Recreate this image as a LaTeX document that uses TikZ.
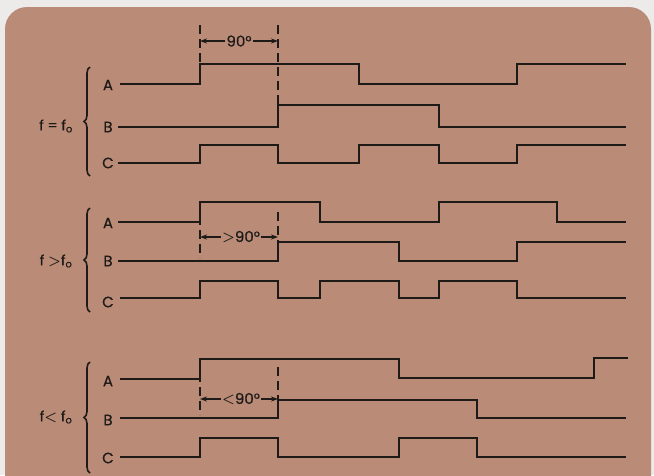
\documentclass[tikz,border=0pt]{standalone}
\usepackage{fontspec}
\usepackage{bm}
\setmainfont{Poppins}[FakeBold=0.6]
\usetikzlibrary{decorations.pathreplacing,arrows.meta}
\definecolor{outerbg}{HTML}{EDEBEA}
\definecolor{card}{HTML}{BA8C77}
\definecolor{ink}{HTML}{1E1A18}
\newcommand{\gtsym}{\raisebox{0.2pt}{$\bm{>}$}}
\newcommand{\ltsym}{\raisebox{0.2pt}{$\bm{<}$}}
\tikzset{
  wave/.style={draw=ink, line width=2.9pt, line join=miter, line cap=butt},
  guide/.style={draw=ink, line width=1.2pt, dash pattern=on 9pt off 5pt},
  dim/.style={draw=ink, line width=1.2pt, -{Stealth[length=7pt,width=5pt]}, shorten <=0.5pt},
  sig/.style={text=ink, font=\fontsize{15}{17}\selectfont, inner sep=1pt},
  dimlab/.style={text=ink, font=\fontsize{15}{17}\selectfont, inner sep=0.5pt, fill=card},
  freq/.style={text=ink, font=\fontsize{14}{16}\selectfont, inner sep=1pt},
  grp/.style={draw=ink, line width=1.6pt, decorate, decoration={brace, amplitude=6pt}}
}
\begin{document}
\begin{tikzpicture}[x=1pt,y=-1pt]
\useasboundingbox (0,0) rectangle (654,475);
\clip (0,0) rectangle (654,475);
\fill[outerbg] (0,0) rectangle (654,475);
\fill[card, rounded corners=22pt] (5,7) rectangle (651,500);

% ---------- group 1: f = fo ----------
\draw[grp] (90,176) -- (90,67);
\node[freq] (f1) at (56,126) {f = f$_{\mathrm{o}}$};
\node[sig] (a1) at (108,85) {A};
\node[sig] (b1) at (108,127) {B};
\node[sig] (c1) at (108,163) {C};
\draw[wave] (120,84) -- (200,84) -- (200,64) -- (359,64) -- (359,84) -- (517,84) -- (517,64) -- (626,64);
\draw[wave] (118,127) -- (278,127) -- (278,105) -- (439,105) -- (439,127) -- (626,127);
\draw[wave] (118,163) -- (200,163) -- (200,145) -- (278,145) -- (278,163) -- (359,163) -- (359,145) -- (439,145) -- (439,163) -- (517,163) -- (517,145) -- (626,145);
\draw[guide] (200,25) -- (200,64);
\draw[guide] (278,25) -- (278,105);
\coordinate (g1l) at (200,41);
\coordinate (g1r) at (278,41);
\node[dimlab] (d1) at (239,41) {90°};
\draw[dim] (d1.west) -- (g1l);
\draw[dim] (d1.east) -- (g1r);

% ---------- group 2: f > fo ----------
\draw[grp] (90,312) -- (90,208);
\node[freq] (f2) at (56,261) {f \gtsym f$_{\mathrm{o}}$};
\node[sig] (a2) at (108,223) {A};
\node[sig] (b2) at (108,261) {B};
\node[sig] (c2) at (108,302) {C};
\draw[wave] (118,222) -- (200,222) -- (200,202) -- (320,202) -- (320,222) -- (439,222) -- (439,202) -- (557,202) -- (557,222) -- (626,222);
\draw[wave] (118,261) -- (278,261) -- (278,242) -- (399,242) -- (399,261) -- (517,261) -- (517,242) -- (626,242);
\draw[wave] (120,298) -- (200,298) -- (200,281) -- (278,281) -- (278,298) -- (320,298) -- (320,281) -- (399,281) -- (399,298) -- (439,298) -- (439,281) -- (517,281) -- (517,298) -- (626,298);
\draw[guide] (200,202) -- (200,258);
\draw[guide] (278,212) -- (278,242);
\coordinate (g2l) at (200,237);
\coordinate (g2r) at (278,237);
\node[dimlab] (d2) at (241,237) {\gtsym 90°};
\draw[dim] (d2.west) -- (g2l);
\draw[dim] (d2.east) -- (g2r);

% ---------- group 3: f < fo ----------
\draw[grp] (90,473) -- (90,362);
\node[freq] (f3) at (56,417) {f\ltsym\ f$_{\mathrm{o}}$};
\node[sig] (a3) at (108,381) {A};
\node[sig] (b3) at (108,420) {B};
\node[sig] (c3) at (108,458) {C};
\draw[wave] (120,379) -- (200,379) -- (200,359) -- (399,359) -- (399,378) -- (594,378) -- (594,358) -- (628,358);
\draw[wave] (120,418) -- (278,418) -- (278,400) -- (477,400) -- (477,418) -- (626,418);
\draw[wave] (120,457) -- (200,457) -- (200,438) -- (278,438) -- (278,457) -- (399,457) -- (399,438) -- (477,438) -- (477,457) -- (626,457);
\draw[guide] (200,359) -- (200,415);
\draw[guide] (278,367) -- (278,400);
\coordinate (g3l) at (200,399);
\coordinate (g3r) at (278,399);
\node[dimlab] (d3) at (241,399) {\ltsym 90°};
\draw[dim] (d3.west) -- (g3l);
\draw[dim] (d3.east) -- (g3r);
\end{tikzpicture}
\end{document}
